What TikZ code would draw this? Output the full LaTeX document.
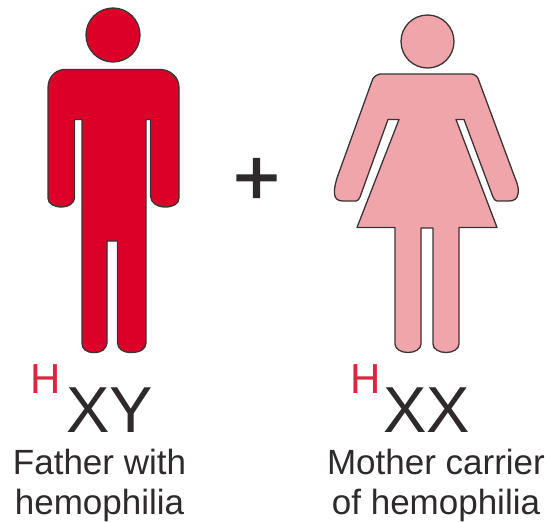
\documentclass[tikz,border=0pt]{standalone}
\usepackage{fontspec}
\setmainfont{Liberation Sans}
\newfontfamily\plusfont[FakeBold=1.6]{Liberation Sans}
\definecolor{malered}{HTML}{DC0028}
\definecolor{femalepink}{HTML}{F0A5AA}
\definecolor{edge}{HTML}{3A3436}
\definecolor{hred}{HTML}{E0263F}
\definecolor{ink}{HTML}{2E2A2B}
\tikzset{
  figure/.style={draw=edge,line width=1.3pt,line join=round},
  maleshape/.style={figure,fill=malered},
  femaleshape/.style={figure,fill=femalepink},
  hlabel/.style={inner sep=0pt,anchor=base west,text=hred,font=\fontsize{42}{42}\selectfont},
  geno/.style={inner sep=0pt,anchor=base west,text=ink,font=\fontsize{65}{65}\selectfont},
  caption/.style={inner sep=0pt,align=center,text=ink,font=\fontsize{35}{39.5}\selectfont},
}
\begin{document}
\begin{tikzpicture}[x=1pt,y=-1pt]
\useasboundingbox (0,0) rectangle (549,522);
% male
\node[maleshape,circle,minimum size=54pt,inner sep=0pt] (mhead) at (113,35) {};
\draw[maleshape] (63,69.5) -- (162,69.5) .. controls (172,71) and (179,78) .. (179,88)
  -- (179,198) .. controls (179,204) and (173,207) .. (165,207) .. controls (157,207) and (151,203) .. (150.5,196)
  -- (150.5,119.5) -- (146,119.5) -- (146,343) .. controls (146,349) and (140,352.5) .. (131,352.5)
  .. controls (123,352.5) and (118,349) .. (117.5,343) -- (117.5,241) -- (107,241) -- (107,343)
  .. controls (106,349) and (102,352.5) .. (94,352.5) .. controls (86,352.5) and (82,349) .. (82,343)
  -- (82,119.5) -- (74.5,119.5) -- (74.5,198) .. controls (74,203) and (69,207) .. (62,207)
  .. controls (54,207) and (48,204) .. (48,198) -- (48,88) .. controls (48,78) and (54,71) .. (63,69.5) -- cycle;
% female
\node[femaleshape,circle,minimum size=53pt,inner sep=0pt] (fhead) at (427.5,41.5) {};
\draw[femaleshape] (380,74) -- (472,74) .. controls (476,75) and (478,77) .. (479,81)
  -- (515,178) .. controls (518,185) and (519,190) .. (518,194) .. controls (517,199) and (514,201) .. (509,201)
  -- (497,201) .. controls (495,201) and (494,199) .. (493,197) -- (464,119.5)
  -- (456,119.5) -- (497,227.5) -- (459,227.5) -- (459,344) .. controls (459,349) and (453,352.5) .. (446,352.5)
  .. controls (439,352.5) and (433,349) .. (433,344) -- (433,228) -- (421,228) -- (421,344)
  .. controls (421,349) and (415,352.5) .. (408,352.5) .. controls (401,352.5) and (395,349) .. (395,344)
  -- (395,227.5) -- (357,227.5) -- (399,119.5) -- (388,119.5) -- (360,197) .. controls (359,199) and (358,201) .. (356,201)
  -- (343,201) .. controls (338,201) and (335,199) .. (334.5,194) .. controls (334,190) and (335,185) .. (337,178)
  -- (372,81) .. controls (373,77) and (376,75) .. (380,74) -- cycle;
% plus
\node[inner sep=0pt,text=ink,font=\fontsize{80}{80}\plusfont\selectfont] (plus) at (256.5,181.5) {+};
% labels
\node[hlabel] (h1) at (30,393) {H};
\node[geno] (g1) at (66,432) {XY};
\node[hlabel] (h2) at (350,393) {H};
\node[geno] (g2) at (383,432) {XX};
\node[caption] (c1) at (99.5,485.5) {Father with\\hemophilia};
\node[caption] (c2) at (436,485.5) {Mother carrier\\of hemophilia};
\end{tikzpicture}
\end{document}
